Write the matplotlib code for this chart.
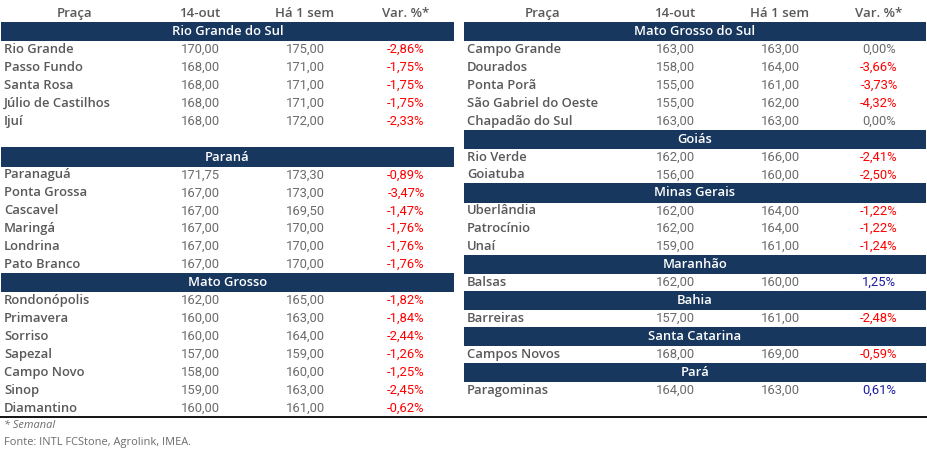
import matplotlib
matplotlib.use("Agg")
import matplotlib.pyplot as plt
from matplotlib.patches import Rectangle

# ---------------- data ----------------
headers = ["Praça", "14-out", "Há 1 sem", "Var. %*"]

left_states = ["Rio Grande do Sul", None, "Paraná", "Mato Grosso"]
left_places = [
    ["Rio Grande", "Passo Fundo", "Santa Rosa", "Júlio de Castilhos", "Ijuí"],
    [],
    ["Paranaguá", "Ponta Grossa", "Cascavel", "Maringá", "Londrina", "Pato Branco"],
    ["Rondonópolis", "Primavera", "Sorriso", "Sapezal", "Campo Novo", "Sinop", "Diamantino"],
]
left_now = [
    [170.00, 168.00, 168.00, 168.00, 168.00],
    [],
    [171.75, 167.00, 167.00, 167.00, 167.00, 167.00],
    [162.00, 160.00, 160.00, 157.00, 158.00, 159.00, 160.00],
]
left_week = [
    [175.00, 171.00, 171.00, 171.00, 172.00],
    [],
    [173.30, 173.00, 169.50, 170.00, 170.00, 170.00],
    [165.00, 163.00, 164.00, 159.00, 160.00, 163.00, 161.00],
]
left_var = [
    [-2.86, -1.75, -1.75, -1.75, -2.33],
    [],
    [-0.89, -3.47, -1.47, -1.76, -1.76, -1.76],
    [-1.82, -1.84, -2.44, -1.26, -1.25, -2.45, -0.62],
]

right_states = ["Mato Grosso do Sul", "Goiás", "Minas Gerais", "Maranhão",
                "Bahia", "Santa Catarina", "Pará"]
right_places = [
    ["Campo Grande", "Dourados", "Ponta Porã", "São Gabriel do Oeste", "Chapadão do Sul"],
    ["Rio Verde", "Goiatuba"],
    ["Uberlândia", "Patrocínio", "Unaí"],
    ["Balsas"],
    ["Barreiras"],
    ["Campos Novos"],
    ["Paragominas"],
]
right_now = [
    [163.00, 158.00, 155.00, 155.00, 163.00],
    [162.00, 156.00],
    [162.00, 162.00, 159.00],
    [162.00],
    [157.00],
    [168.00],
    [164.00],
]
right_week = [
    [163.00, 164.00, 161.00, 162.00, 163.00],
    [166.00, 160.00],
    [164.00, 164.00, 161.00],
    [160.00],
    [161.00],
    [169.00],
    [163.00],
]
right_var = [
    [0.00, -3.66, -3.73, -4.32, 0.00],
    [-2.41, -2.50],
    [-1.22, -1.22, -1.24],
    [1.25],
    [-2.48],
    [-0.59],
    [0.61],
]

footnote = "* Semanal"
source = "Fonte: INTL FCStone, Agrolink, IMEA."

# ---------------- style ----------------
W, H = 927, 454
NAVY = "#17375E"
GRAY_NAME = "#595959"
GRAY_NUM = "#6b6b6b"
RED = "#FF0000"
BLUE = "#1A1AA0"
NAME_FONT = "Open Sans"
NUM_FONT = "Roboto"

fig = plt.figure(figsize=(W / 100, H / 100), dpi=100)
ax = fig.add_axes([0, 0, 1, 1])
ax.set_xlim(0, W)
ax.set_ylim(H, 0)
ax.axis("off")
renderer = fig.canvas.get_renderer()


def fit_size(sample, target_px, **kw):
    t = ax.text(0, 0, sample, fontsize=10, **kw)
    w = t.get_window_extent(renderer).width
    t.remove()
    return 10 * target_px / w


NAME_KW = dict(family=NAME_FONT, fontweight="semibold")
BAND_KW = dict(family=NAME_FONT, fontweight="semibold")
NUM_KW = dict(family=NUM_FONT)
HEAD_KW = dict(family=NAME_FONT, fontweight="semibold")

NAME_FS = fit_size("São Gabriel do Oeste", 131, **NAME_KW)
BAND_FS = fit_size("Rio Grande do Sul", 112, **BAND_KW)
NUM_FS = 9.4
HEAD_FS = fit_size("Há 1 sem", 59, **HEAD_KW)
SRC_FS = fit_size(source, 185, family=NAME_FONT)

PITCH = 17.93
Y0 = 13.6


def fmt(v):
    return f"{v:,.2f}".replace(",", "X").replace(".", ",").replace("X", ".")


def fmt_pct(v):
    return fmt(v) + "%"


def draw_table(x0, x1, name_x, col_x, states, places, nows, weeks, vars_):
    y = Y0
    for cx, h in zip(col_x, headers):
        ax.text(cx, y, h, ha="center", va="center", fontsize=HEAD_FS,
                color=GRAY_NAME, **HEAD_KW)
    row = 1
    for st, pl, nw, wk, vr in zip(states, places, nows, weeks, vars_):
        yc = Y0 + row * PITCH
        if st is None:
            row += 1
            continue
        ax.add_patch(Rectangle((x0, yc - 9.6), x1 - x0, 19.2,
                               facecolor=NAVY, edgecolor="none"))
        ax.text((x0 + x1) / 2, yc, st, ha="center", va="center",
                fontsize=BAND_FS, color="white", **BAND_KW)
        row += 1
        for p, a, b, v in zip(pl, nw, wk, vr):
            yc = Y0 + row * PITCH
            ax.text(name_x, yc, p, ha="left", va="center", fontsize=NAME_FS,
                    color=GRAY_NAME, **NAME_KW)
            ax.text(col_x[1], yc, fmt(a), ha="center", va="center",
                    fontsize=NUM_FS, color=GRAY_NUM, **NUM_KW)
            ax.text(col_x[2], yc, fmt(b), ha="center", va="center",
                    fontsize=NUM_FS, color=GRAY_NUM, **NUM_KW)
            c = RED if v < 0 else (BLUE if v > 0 else GRAY_NUM)
            ax.text(col_x[3], yc, fmt_pct(v), ha="center", va="center",
                    fontsize=NUM_FS, color=c, **NUM_KW)
            row += 1


draw_table(1, 454, 4, [75, 200, 305, 406],
           left_states, left_places, left_now, left_week, left_var)
draw_table(464, 926, 467, [543, 675, 780, 879],
           right_states, right_places, right_now, right_week, right_var)

ax.plot([0, W], [416.5, 416.5], color="black", lw=1.3, solid_capstyle="butt")

ax.text(4, 425.5, footnote, ha="left", va="center", fontsize=SRC_FS,
        color=GRAY_NUM, style="italic", family=NAME_FONT)
ax.text(4, 443, source, ha="left", va="center", fontsize=SRC_FS,
        color=GRAY_NUM, family=NAME_FONT)

fig.savefig("out.png", dpi=100, facecolor="white")
